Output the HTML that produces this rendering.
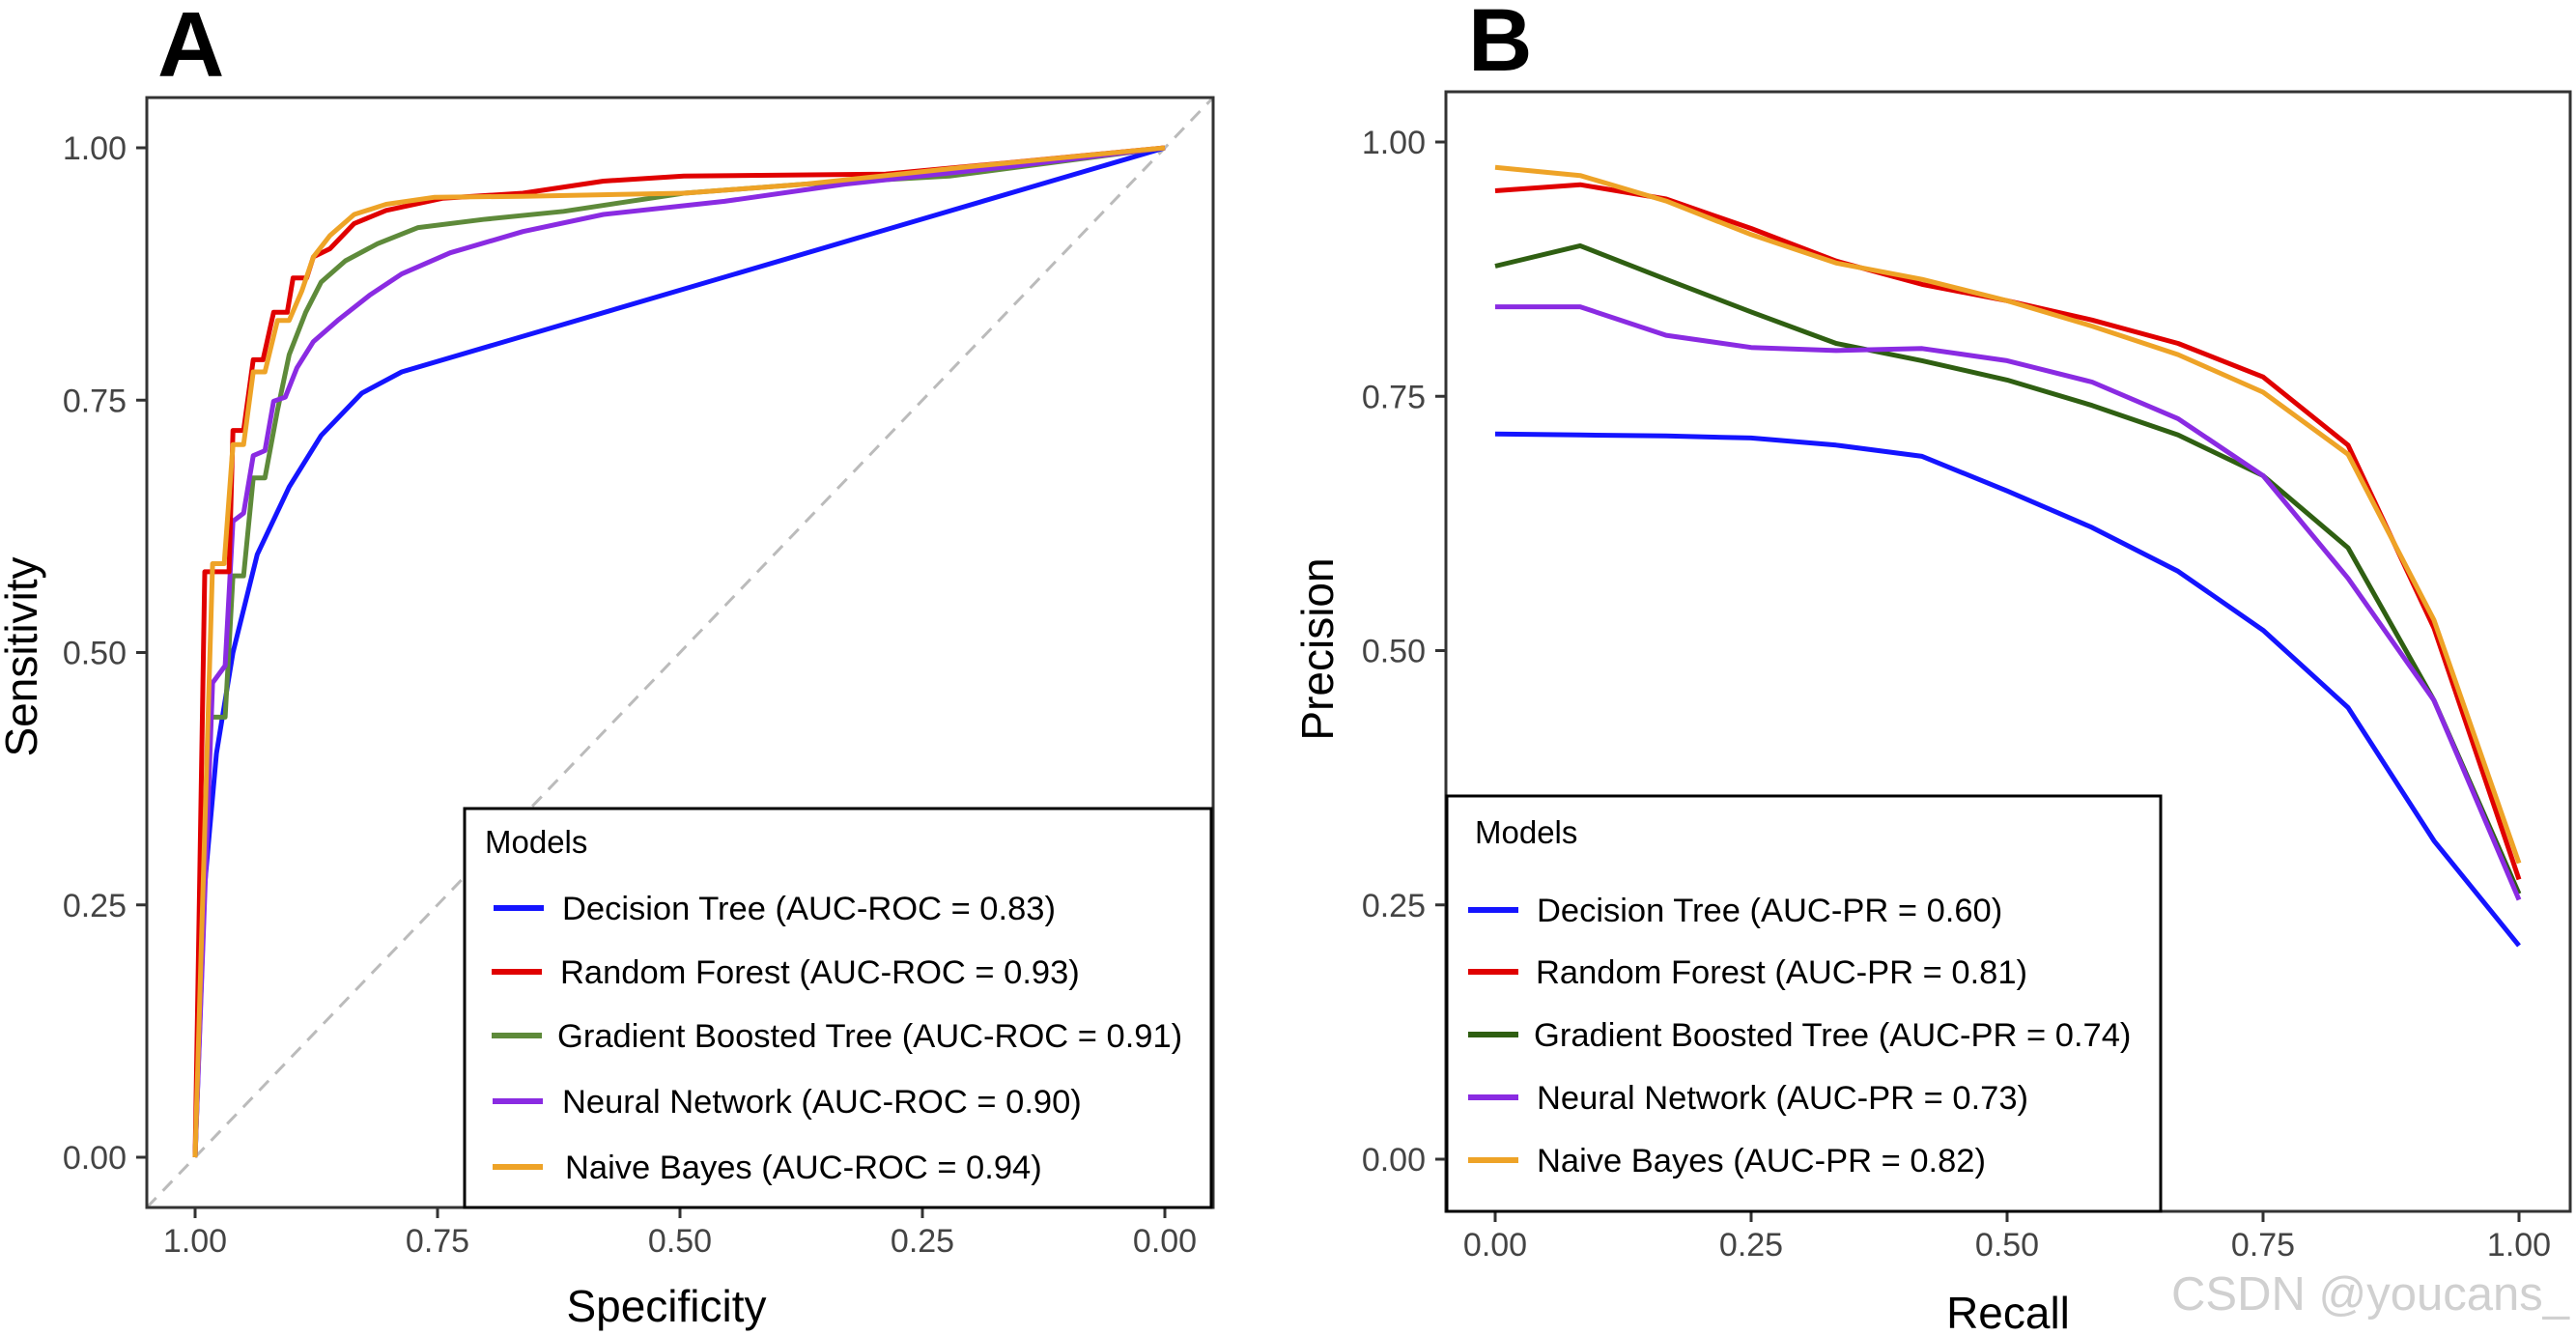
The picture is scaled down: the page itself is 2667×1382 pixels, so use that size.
<!DOCTYPE html>
<html><head><meta charset="utf-8">
<style>
html,body{margin:0;padding:0;background:#fff;}
svg{display:block;font-family:"Liberation Sans",Arial,sans-serif;}
</style></head>
<body>
<svg id="chart" width="2667" height="1382" viewBox="0 0 2667 1382" xmlns="http://www.w3.org/2000/svg">
<rect width="2667" height="1382" fill="#fff"/>
</svg>
<script>
// ---------- Panel A data (ROC) ----------
const rocTicks = [1.00, 0.75, 0.50, 0.25, 0.00];
const rocTickLabels = ["1.00","0.75","0.50","0.25","0.00"];
const dtSpec = [1, 0.99, 0.978, 0.961, 0.936, 0.903, 0.870, 0.828, 0.787, 0];
const dtSens = [0, 0.27, 0.40, 0.50, 0.597, 0.664, 0.715, 0.757, 0.778, 1];
const rfSpec = [1, 0.99, 0.978, 0.965, 0.961, 0.95, 0.94, 0.93, 0.919, 0.905, 0.899, 0.885, 0.878, 0.861, 0.836, 0.803, 0.745, 0.662, 0.579, 0.496, 0.288, 0.164, 0];
const rfSens = [0, 0.58, 0.58, 0.58, 0.72, 0.72, 0.79, 0.79, 0.837, 0.837, 0.871, 0.871, 0.892, 0.90, 0.925, 0.938, 0.95, 0.955, 0.967, 0.972, 0.974, 0.985, 1];
const gbSpec = [1, 0.985, 0.978, 0.969, 0.961, 0.95, 0.94, 0.928, 0.915, 0.903, 0.886, 0.87, 0.845, 0.812, 0.77, 0.703, 0.62, 0.496, 0.371, 0.222, 0];
const gbSens = [0, 0.436, 0.436, 0.436, 0.576, 0.576, 0.673, 0.673, 0.74, 0.795, 0.837, 0.867, 0.888, 0.905, 0.921, 0.929, 0.937, 0.955, 0.964, 0.972, 1];
const nnSpec = [1, 0.982, 0.969, 0.961, 0.95, 0.94, 0.928, 0.919, 0.907, 0.895, 0.878, 0.853, 0.82, 0.787, 0.737, 0.662, 0.579, 0.454, 0.33, 0.164, 0];
const nnSens = [0, 0.47, 0.487, 0.63, 0.638, 0.695, 0.70, 0.749, 0.753, 0.782, 0.808, 0.829, 0.854, 0.875, 0.896, 0.917, 0.934, 0.947, 0.964, 0.981, 1];
const nbSpec = [1, 0.982, 0.97, 0.961, 0.95, 0.94, 0.928, 0.915, 0.903, 0.89, 0.878, 0.861, 0.836, 0.803, 0.753, 0.662, 0.496, 0.371, 0.205, 0];
const nbSens = [0, 0.588, 0.588, 0.706, 0.706, 0.778, 0.778, 0.829, 0.829, 0.858, 0.892, 0.913, 0.934, 0.944, 0.951, 0.952, 0.955, 0.964, 0.981, 1];
const rocLabels = ["Decision Tree (AUC-ROC = 0.83)","Random Forest (AUC-ROC = 0.93)","Gradient Boosted Tree (AUC-ROC = 0.91)","Neural Network (AUC-ROC = 0.90)","Naive Bayes (AUC-ROC = 0.94)"];

// ---------- Panel B data (PR) ----------
const prTicks = [0.00, 0.25, 0.50, 0.75, 1.00];
const prTickLabels = ["0.00","0.25","0.50","0.75","1.00"];
const recall = [0, 0.083, 0.167, 0.25, 0.333, 0.417, 0.5, 0.583, 0.667, 0.75, 0.833, 0.917, 1];
const dtPrec = [0.713, 0.712, 0.711, 0.709, 0.702, 0.691, 0.657, 0.621, 0.578, 0.52, 0.444, 0.313, 0.21];
const rfPrec = [0.952, 0.958, 0.944, 0.915, 0.883, 0.86, 0.844, 0.825, 0.802, 0.769, 0.702, 0.522, 0.275];
const gbPrec = [0.878, 0.898, 0.865, 0.833, 0.802, 0.785, 0.766, 0.741, 0.712, 0.672, 0.601, 0.451, 0.261];
const nnPrec = [0.838, 0.838, 0.81, 0.798, 0.795, 0.797, 0.785, 0.764, 0.728, 0.672, 0.571, 0.451, 0.255];
const nbPrec = [0.975, 0.967, 0.942, 0.909, 0.881, 0.865, 0.844, 0.819, 0.791, 0.754, 0.693, 0.53, 0.291];
const prLabels = ["Decision Tree (AUC-PR = 0.60)","Random Forest (AUC-PR = 0.81)","Gradient Boosted Tree (AUC-PR = 0.74)","Neural Network (AUC-PR = 0.73)","Naive Bayes (AUC-PR = 0.82)"];

const NS = "http://www.w3.org/2000/svg";
const svg = document.getElementById("chart");
function mk(tag, attrs, parent){ const e=document.createElementNS(NS,tag); for(const k in attrs) e.setAttribute(k,attrs[k]); (parent||svg).appendChild(e); return e; }

const axA = {x:v=>202+(1-v)*1004, y:v=>1198-v*1045, left:152, right:1256, top:101, bottom:1250};
const axB = {x:v=>1548+v*1060, y:v=>1200-v*1053, left:1497, right:2661, top:95, bottom:1254};

function frame(ax, name){
  const g = mk("g",{});
  
  
  mk("rect",{x:ax.left,y:ax.top,width:ax.right-ax.left,height:ax.bottom-ax.top,fill:"none",stroke:"#333",'stroke-width':3},g);
  return g;
}
function yAxis(ax, ticks, labels, name){
  const g = mk("g",{});
  
  
  ticks.forEach((t,i)=>{
    const y=ax.y(t);
    mk("line",{x1:ax.left-11,x2:ax.left,y1:y,y2:y,stroke:"#333",'stroke-width':3},g);
    const tx=mk("text",{x:ax.left-21,y:y+12,'text-anchor':"end",'font-size':34,fill:"#444"},g);
    tx.textContent=labels[i];
  });
}
function xAxis(ax, ticks, labels, name){
  const g = mk("g",{});
  
  
  ticks.forEach((t,i)=>{
    const x=ax.x(t);
    mk("line",{x1:x,x2:x,y1:ax.bottom,y2:ax.bottom+11,stroke:"#333",'stroke-width':3},g);
    const tx=mk("text",{x:x,y:ax.bottom+46,'text-anchor':"middle",'font-size':34,fill:"#444"},g);
    tx.textContent=labels[i];
  });
}
function series(ax, xs, ys, color, name){
  const pts = xs.map((v,i)=>ax.x(v).toFixed(1)+","+ax.y(ys[i]).toFixed(1)).join(" ");
  const p = mk("polyline",{points:pts,fill:"none",stroke:color,'stroke-width':5,'stroke-linejoin':"round"});
  
  
}
function text(x,y,str,attrs,name){
  const t=mk("text",Object.assign({x:x,y:y},attrs)); t.textContent=str;
  
  
  return t;
}
function legend(lx,ly,w,h,titleX,titleY,rows,labels,colors,name){
  const g=mk("g",{});
  
  
  mk("rect",{x:lx,y:ly,width:w,height:h,fill:"#fff",stroke:"#000",'stroke-width':3},g);
  const t=mk("text",{x:titleX,y:titleY,'font-size':33,fill:"#000"},g); t.textContent="Models";
  labels.forEach((lab,i)=>{
    const r=rows[i];
    const e=mk("g",{},g);
    
    
    mk("line",{x1:r[0],x2:r[0]+52,y1:r[2],y2:r[2],stroke:colors[i],'stroke-width':6},e);
    const tt=mk("text",{x:r[1],y:r[2]+12,'font-size':34.5,fill:"#000"},e); tt.textContent=lab;
  });
}

// ---------- Panel A ----------
const colA=["#1414ff","#e00000","#5e8a3a","#8a2be2","#eea327"];
const diag=mk("line",{x1:axA.left,y1:axA.bottom,x2:axA.right,y2:axA.top,stroke:"#bbb",'stroke-width':3,'stroke-dasharray':"14,10"});


series(axA,dtSpec,dtSens,colA[0],"roc-decision-tree");
series(axA,gbSpec,gbSens,colA[2],"roc-gradient-boosted-tree");
series(axA,nnSpec,nnSens,colA[3],"roc-neural-network");
series(axA,rfSpec,rfSens,colA[1],"roc-random-forest");
series(axA,nbSpec,nbSens,colA[4],"roc-naive-bayes");
frame(axA,"roc");
yAxis(axA,rocTicks,rocTickLabels,"roc-y-axis");
xAxis(axA,rocTicks,rocTickLabels,"roc-x-axis");
legend(481,837,773,413,502,883,[[511,582,940],[509,580,1006],[509,577,1072],[510,582,1140],[510,585,1208]],rocLabels,colA,"roc-legend");
text(690,1368,"Specificity",{'text-anchor':"middle",'font-size':46,fill:"#000"},"roc-x-axis-title");
text(0,0,"Sensitivity",{'text-anchor':"middle",'font-size':46,fill:"#000",transform:"translate(38,680) rotate(-90)"},"roc-y-axis-title");
text(163,79,"A",{'font-size':96,'font-weight':"bold",fill:"#000"},"panel-label-a");

// ---------- Panel B ----------
const colB=["#1414ff","#e00000","#2f5f12","#8a2be2","#eea327"];
series(axB,recall,dtPrec,colB[0],"pr-decision-tree");
series(axB,recall,gbPrec,colB[2],"pr-gradient-boosted-tree");
series(axB,recall,nnPrec,colB[3],"pr-neural-network");
series(axB,recall,rfPrec,colB[1],"pr-random-forest");
series(axB,recall,nbPrec,colB[4],"pr-naive-bayes");
frame(axB,"pr");
yAxis(axB,[0,0.25,0.5,0.75,1],["0.00","0.25","0.50","0.75","1.00"],"pr-y-axis");
xAxis(axB,prTicks,prTickLabels,"pr-x-axis");
legend(1498,824,739,430,1527,873,[[1520,1591,942],[1520,1590,1006],[1520,1588,1071],[1520,1591,1136],[1520,1591,1201]],prLabels,colB,"pr-legend");
text(2079,1375,"Recall",{'text-anchor':"middle",'font-size':46,fill:"#000"},"pr-x-axis-title");
text(0,0,"Precision",{'text-anchor':"middle",'font-size':46,fill:"#000",transform:"translate(1380,672) rotate(-90)"},"pr-y-axis-title");
text(1520,73,"B",{'font-size':92,'font-weight':"bold",fill:"#000"},"panel-label-b");

// watermark
text(2660,1356,"CSDN @youcans_",{'text-anchor':"end",'font-size':49,fill:"#d0d0d0"},"watermark");
</script>
</body></html>
